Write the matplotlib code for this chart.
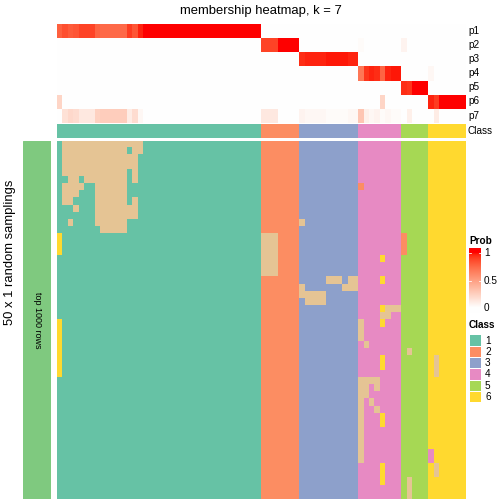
import numpy as np
import matplotlib
matplotlib.use("Agg")
import matplotlib.pyplot as plt
from matplotlib.colors import ListedColormap
from matplotlib.patches import Rectangle
from matplotlib.lines import Line2D

plt.rcParams['font.family'] = ['Liberation Sans', 'DejaVu Sans']

# ---------------- data ----------------
title = "membership heatmap, k = 7"
prob_labels = ["p1", "p2", "p3", "p4", "p5", "p6", "p7"]
legend_classes = ["1", "2", "3", "4", "5", "6"]
class_colors = ["#66C2A5", "#FC8D62", "#8DA0CB", "#E78AC3", "#A6D854", "#FFD92F", "#E5C494"]
side_color = "#7FC97F"
side_label = "top 1000 rows"
row_title = "50 x 1 random samplings"
prob_ticks = [0, 0.5, 1]
prob_tick_labels = ["0", "0.5", "1"]

# final class of each of the 76 samples (column order of the picture)
sample_class = [1] * 38 + [2] * 7 + [3] * 11 + [4] * 8 + [5] * 5 + [6] * 7
n_samplings = 50

# cells of the 50 samplings that differ from the final class:
# (sampling row, first column, last column, class)
deviations = [
    (0, 1, 15, 7),
    (1, 1, 12, 7), (1, 14, 15, 7),
    (2, 1, 14, 7),
    (3, 1, 14, 7),
    (4, 1, 12, 7), (4, 14, 14, 7),
    (5, 2, 3, 7), (5, 5, 12, 7), (5, 14, 14, 7),
    (6, 1, 4, 7), (6, 7, 12, 7), (6, 56, 56, 2),
    (7, 1, 3, 7), (7, 7, 12, 7),
    (8, 1, 2, 7), (8, 7, 12, 7), (8, 14, 14, 7),
    (9, 3, 3, 7), (9, 7, 14, 7),
    (10, 7, 14, 7),
    (11, 2, 2, 7), (11, 7, 12, 7), (11, 45, 45, 7),
    (12, 8, 12, 7),
    (13, 0, 0, 6), (13, 38, 40, 7), (13, 64, 64, 2),
    (14, 0, 0, 6), (14, 38, 40, 7), (14, 64, 64, 2),
    (15, 0, 0, 6), (15, 38, 40, 7), (15, 64, 64, 2),
    (16, 38, 40, 7), (16, 60, 60, 6),
    (17, 38, 40, 7),
    (18, 38, 40, 7),
    (19, 50, 52, 7), (19, 54, 55, 7), (19, 60, 60, 6),
    (20, 45, 45, 7), (20, 53, 55, 7),
    (21, 45, 49, 7),
    (22, 46, 49, 7),
    (23, 60, 60, 6), (23, 61, 63, 7),
    (24, 60, 61, 7),
    (25, 0, 0, 6), (25, 56, 56, 7), (25, 60, 60, 6),
    (26, 0, 0, 6), (26, 56, 56, 7),
    (27, 0, 0, 6), (27, 56, 56, 7),
    (28, 0, 0, 6), (28, 57, 57, 7),
    (29, 0, 0, 6), (29, 65, 65, 7),
    (30, 0, 0, 6), (30, 60, 60, 6), (30, 70, 70, 7),
    (31, 0, 0, 6), (31, 60, 60, 6), (31, 70, 70, 7),
    (32, 0, 0, 6), (32, 70, 70, 7),
    (33, 56, 59, 7),
    (34, 56, 57, 7), (34, 59, 59, 7),
    (35, 56, 57, 7),
    (36, 56, 56, 7), (36, 58, 58, 7),
    (37, 56, 56, 7), (37, 59, 59, 7),
    (38, 56, 56, 7), (38, 60, 60, 6),
    (39, 56, 56, 7), (39, 60, 60, 6),
    (40, 56, 56, 7),
    (41, 56, 56, 7),
    (42, 56, 56, 7),
    (43, 56, 56, 7), (43, 69, 69, 4),
    (44, 56, 56, 7), (44, 69, 69, 4),
    (45, 60, 60, 6), (45, 70, 70, 7),
    (46, 60, 60, 6), (46, 70, 70, 7),
    (47, 60, 60, 6), (47, 65, 65, 7),
    (48, 65, 65, 7),
    (49, 65, 65, 7),
]

# ---------------- build matrices ----------------
n_cols = len(sample_class)
membership = np.tile(np.array(sample_class), (n_samplings, 1))
for r, c0, c1, k in deviations:
    membership[r, c0:c1 + 1] = k
# membership probability = share of samplings assigning each class
prob = np.array([(membership == k).mean(axis=0) for k in range(1, 8)])


# white -> red colour ramp interpolated in LAB space
def _srgb_to_lab(rgb):
    rgb = np.asarray(rgb, float)
    lin = np.where(rgb <= 0.04045, rgb / 12.92, ((rgb + 0.055) / 1.055) ** 2.4)
    M = np.array([[0.4124564, 0.3575761, 0.1804375],
                  [0.2126729, 0.7151522, 0.0721750],
                  [0.0193339, 0.1191920, 0.9503041]])
    xyz = M @ lin / np.array([0.95047, 1.0, 1.08883])
    d = 6 / 29
    f = np.where(xyz > d ** 3, np.cbrt(xyz), xyz / (3 * d * d) + 4 / 29)
    return np.array([116 * f[1] - 16, 500 * (f[0] - f[1]), 200 * (f[1] - f[2])])


def _lab_to_srgb(lab):
    L, a, b = lab
    fy = (L + 16) / 116
    fx = fy + a / 500
    fz = fy - b / 200
    d = 6 / 29
    f = np.array([fx, fy, fz])
    xyz = np.where(f > d, f ** 3, 3 * d * d * (f - 4 / 29)) * np.array([0.95047, 1.0, 1.08883])
    Minv = np.array([[3.2404542, -1.5371385, -0.4985314],
                     [-0.9692660, 1.8760108, 0.0415560],
                     [0.0556434, -0.2040259, 1.0572252]])
    lin = np.clip(Minv @ xyz, 0, 1)
    rgb = np.where(lin <= 0.0031308, 12.92 * lin, 1.055 * lin ** (1 / 2.4) - 0.055)
    return np.clip(rgb, 0, 1)


lab_w = _srgb_to_lab([1, 1, 1])
lab_r = _srgb_to_lab([1, 0, 0])
ramp = [_lab_to_srgb(lab_w + (lab_r - lab_w) * t) for t in np.linspace(0, 1, 256)]
prob_cmap = ListedColormap(ramp)
class_cmap = ListedColormap(class_colors)

# ---------------- figure ----------------
W = H = 504
fig = plt.figure(figsize=(W / 72, H / 72), dpi=72)


def px_axes(x0, y0, x1, y1):
    ax = fig.add_axes([x0 / W, 1 - y1 / H, (x1 - x0) / W, (y1 - y0) / H])
    ax.set_axis_off()
    return ax


def ftext(x, y, s, **kw):
    fig.text(x / W, 1 - y / H, s, **kw)


X0, X1 = 56.7, 465.0

# probability heatmap
ax_p = px_axes(X0, 23.7, X1, 122.7)
ax_p.imshow(prob, cmap=prob_cmap, vmin=0, vmax=1, aspect='auto', interpolation='nearest')

# class annotation
ax_c = px_axes(X0, 123.7, X1, 137.7)
ax_c.imshow(np.array(sample_class)[None, :], cmap=class_cmap, vmin=0.5, vmax=7.5,
            aspect='auto', interpolation='nearest')

# membership of the random samplings
ax_m = px_axes(X0, 140.7, X1, 499)
ax_m.imshow(membership, cmap=class_cmap, vmin=0.5, vmax=7.5, aspect='auto',
            interpolation='nearest')

# left side bar
ax_s = px_axes(23, 140.7, 51, 499)
ax_s.add_patch(Rectangle((0, 0), 1, 1, color=side_color, transform=ax_s.transAxes))
ax_s.text(0.5, 0.5, side_label, rotation=-90, ha='center', va='center', fontsize=9,
          transform=ax_s.transAxes)

# row labels
row_h = 99.0 / 7
for i, lab in enumerate(prob_labels):
    ftext(468, 23.7 + row_h * (i + 0.5), lab, ha='left', va='center', fontsize=10)
ftext(468, 130.7, "Class", ha='left', va='center', fontsize=10)

# titles
ftext(261, 11, title, ha='center', va='center', fontsize=13)
ftext(10, 252, row_title, rotation=90, ha='center', va='center', fontsize=13)

# Prob legend
ftext(469, 241, "Prob", ha='left', va='center', fontsize=10, fontweight='bold')
y_top_tick, y_bot_tick = 253.3, 308.3
bar_top, bar_bot = 248.0, 313.5
per = (y_bot_tick - y_top_tick)
vmax = 1 + (y_top_tick - bar_top) / per
vmin = -(bar_bot - y_bot_tick) / per
ax_cb = px_axes(469, bar_top, 481, bar_bot)
grad = np.linspace(vmax, vmin, 300)[:, None]
ax_cb.imshow(grad, cmap=prob_cmap, vmin=0, vmax=1, aspect='auto',
             extent=[0, 1, vmin, vmax], interpolation='bilinear')
ax_cb.set_xlim(0, 1)
ax_cb.set_ylim(vmin, vmax)
for t, tl in zip(prob_ticks, prob_tick_labels):
    ax_cb.add_line(Line2D([0, 0.2], [t, t], color='white', lw=0.8))
    ax_cb.add_line(Line2D([0.8, 1], [t, t], color='white', lw=0.8))
    ftext(484, y_top_tick + (1 - t) * per, tl, ha='left', va='center', fontsize=10)

# Class legend
ftext(469, 325, "Class", ha='left', va='center', fontsize=10, fontweight='bold')
for i, lab in enumerate(legend_classes):
    yc = 340.5 + 11.3 * i
    fig.patches.append(Rectangle((470 / W, 1 - (yc + 5.2) / H), 11 / W, 10.4 / H,
                                 facecolor=class_colors[i], edgecolor='none',
                                 transform=fig.transFigure))
    ftext(485, yc, lab, ha='left', va='center', fontsize=10)

fig.savefig("out.png", dpi=72)
